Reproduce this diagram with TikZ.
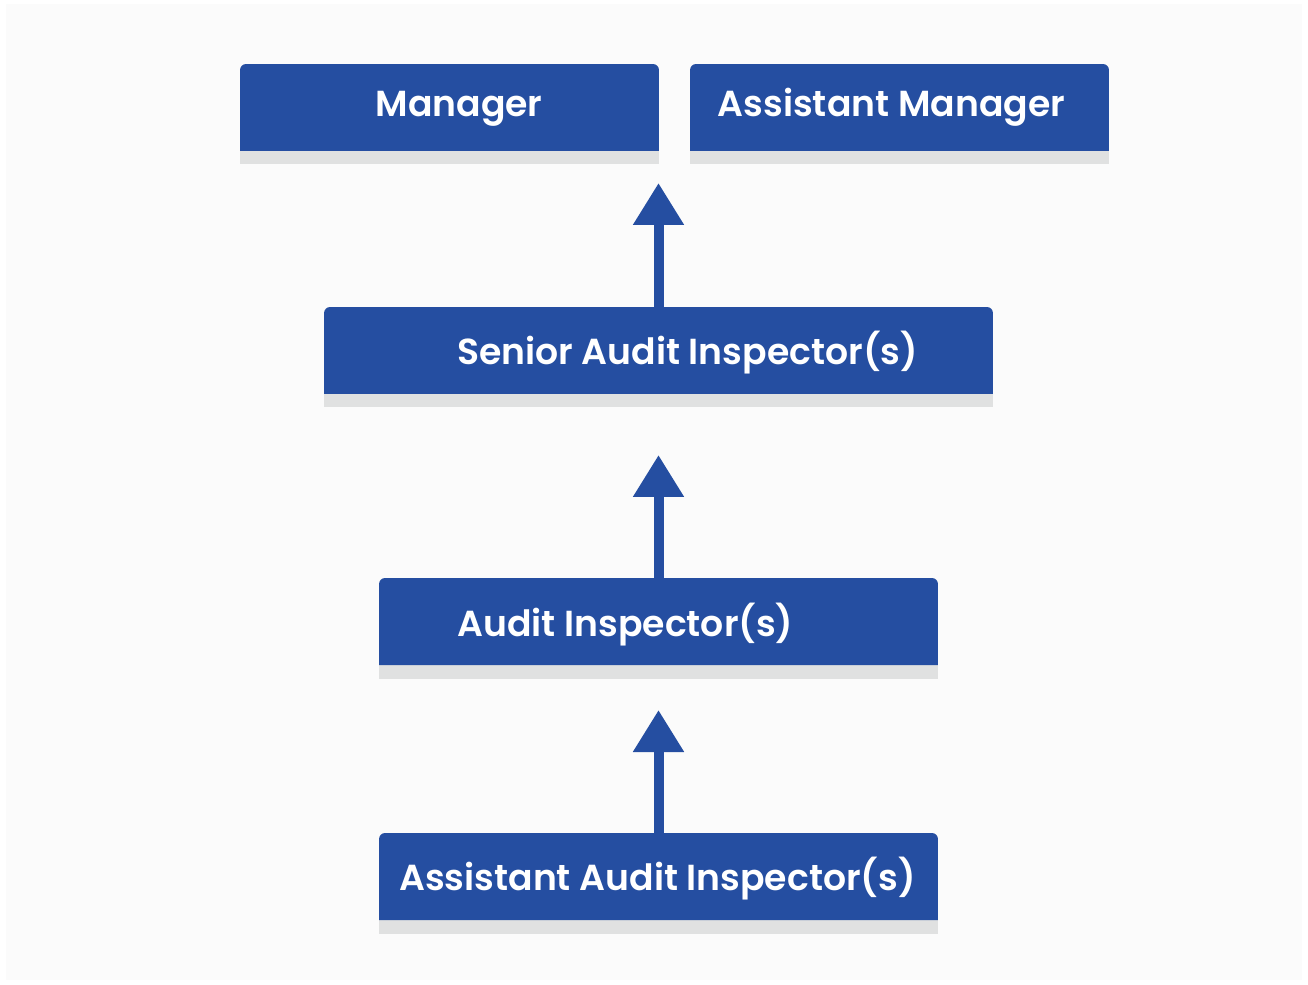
\documentclass[tikz,border=0pt]{standalone}
\usepackage{tikz}
\usetikzlibrary{positioning, calc, arrows.meta}
\usepackage{fontspec}
\setmainfont{Poppins}[UprightFont=* SemiBold]
\definecolor{rankblue}{HTML}{254EA1}
\definecolor{stripgray}{HTML}{E0E1E1}
\definecolor{pagebg}{HTML}{FBFBFB}

\begin{document}
\begin{tikzpicture}[x=0.02cm, y=-0.02cm,
    rankbox/.style={rectangle, inner sep=0pt, outer sep=0pt, minimum height=1.74cm},
    ranktext/.style={text=white, anchor=base, inner sep=0pt, font=\fontsize{20.6}{25}\selectfont},
    rise/.style={draw=rankblue, line width=0.2cm, -{Triangle[length=0.84cm, width=0.97cm]}}]
        \useasboundingbox (0,0) rectangle (1308,984);
        %sfondo
        \fill[white] (0,0) rectangle (1308,984);
        \fill[pagebg] (6,4) rectangle (1302,980);

        %riquadri dei livelli
        \node[rankbox, minimum width=8.38cm] (mgr) at (449.5,107.5) {};
        \node[rankbox, minimum width=8.38cm] (amgr) at (899.5,107.5) {};
        \node[rankbox, minimum width=13.38cm] (sai) at (658.5,350.5) {};
        \node[rankbox, minimum width=11.18cm] (ai) at (658.5,621.5) {};
        \node[rankbox, minimum width=11.18cm] (aai) at (658.5,876.5) {};

        %striscia grigia e riempimento blu
        \foreach \n in {mgr,amgr,sai,ai,aai}{
            \fill[stripgray] (\n.south west) rectangle ($(\n.south east)+(0,13.5)$);
            \fill[rankblue] (\n.south west) [rounded corners=0.12cm] -- (\n.north west) -- (\n.north east) [sharp corners] -- (\n.south east) -- cycle;
        }

        %testi
        \node[ranktext] (mgr-t) at ($(mgr.north)+(9.5,52.7)$) {Manager};
        \node[ranktext] (amgr-t) at ($(amgr.north)+(-8,52.7)$) {Assistant Manager};
        \node[ranktext] (sai-t) at ($(sai.north)+(29,57)$) {Senior Audit Inspector(s)};
        \node[ranktext] (ai-t) at ($(ai.north)+(-33,58)$) {Audit Inspector(s)};
        \node[ranktext] (aai-t) at ($(aai.north)+(-1,57.7)$) {Assistant Audit Inspector(s)};

        %frecce verso l'alto
        \coordinate (tip1) at (658.5,183);
        \coordinate (tip2) at (658.5,455);
        \coordinate (tip3) at (658.5,710);
        \draw[rise] (sai.north) -- (tip1);
        \draw[rise] (ai.north) -- (tip2);
        \draw[rise] (aai.north) -- (tip3);
\end{tikzpicture}
\end{document}
